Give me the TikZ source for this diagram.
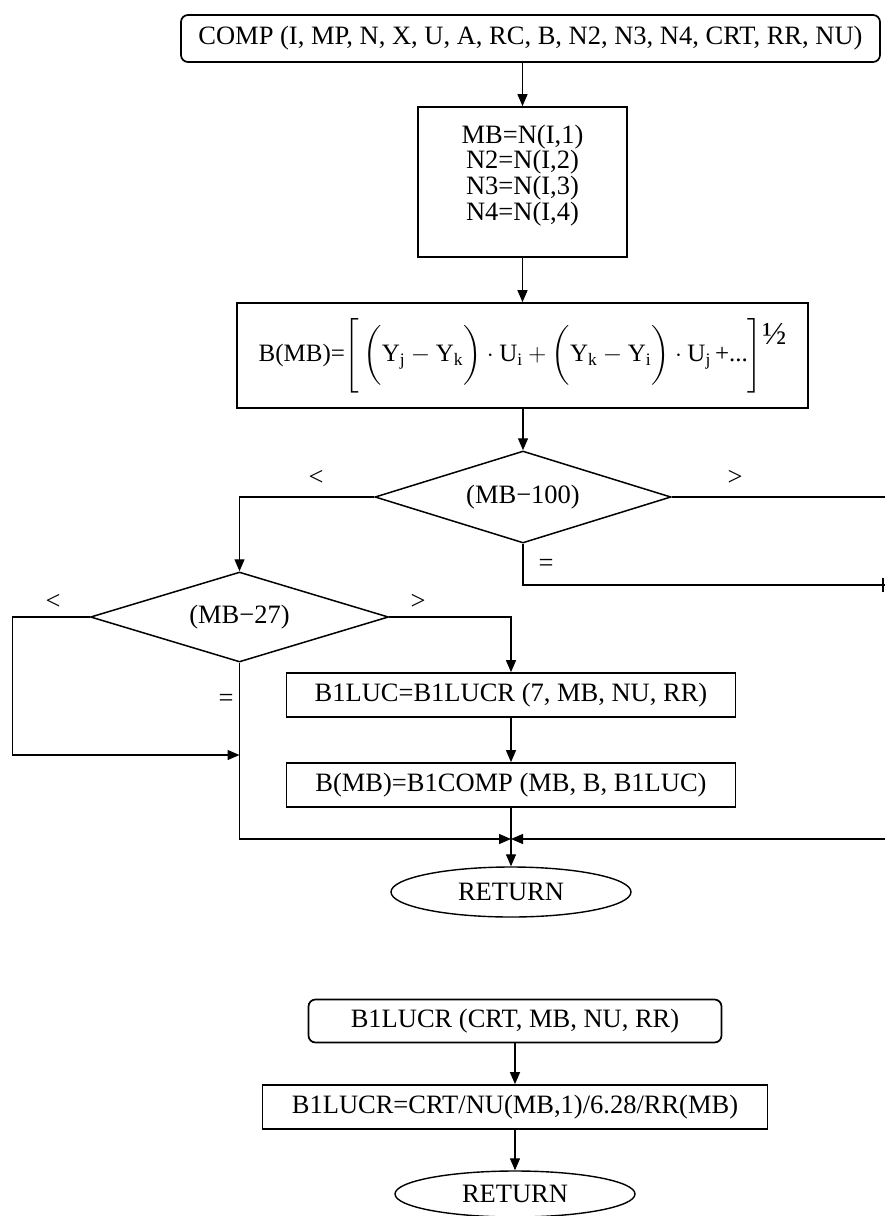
\documentclass[tikz,border=0pt]{standalone}
\usepackage{amsmath}
\usepackage{fontspec}
\setmainfont{Liberation Serif}
\usetikzlibrary{shapes.geometric,arrows.meta}

\begin{document}
\begin{tikzpicture}[x=1pt,y=-1pt,
  every node/.style={font=\fontsize{26.5}{24.5}\selectfont},
  box/.style={draw, line width=1.7pt, rectangle, inner sep=0pt},
  startbox/.style={box, rounded corners=7pt},
  decide/.style={draw, line width=1.5pt, diamond, inner sep=0pt, aspect=3.2},
  term/.style={draw, line width=1.4pt, ellipse, inner sep=0pt},
  flow/.style={line width=1.3pt},
  arr/.style={flow, -{Triangle[length=12pt,width=10pt]}},
  lbl/.style={inner sep=0pt}
]
\useasboundingbox (0,0) rectangle (884,1216);

% ---------------- main routine COMP ----------------
\node[startbox, minimum width=699pt, minimum height=47pt] (comp) at (530.5,38.5)
  {COMP (I, MP, N, X, U, A, RC, B, N2, N3, N4, CRT, RR, NU)};

\node[box, minimum width=209pt, minimum height=150pt] (mb) at (522.5,182)
  {\begin{tabular}{@{}c@{}}MB=N(I,1)\\N2=N(I,2)\\N3=N(I,3)\\N4=N(I,4)\end{tabular}\rule[-57pt]{0pt}{0pt}};

\node[box, minimum width=571pt, minimum height=105pt,
      font=\fontsize{25}{25}\selectfont] (calcB) at (522.5,355.5)
  {B(MB)=$\left[\rule[-28pt]{0pt}{68pt}
     \left(\rule[-21pt]{0pt}{54pt}\text{Y}_{\text{j}} - \text{Y}_{\text{k}}\right)\cdot \text{U}_{\text{i}}
     + \left(\rule[-21pt]{0pt}{54pt}\text{Y}_{\text{k}} - \text{Y}_{\text{i}}\right)\cdot \text{U}_{\text{j}}
     \,\text{+...}\right]$\raisebox{17pt}{\fontsize{32}{32}\selectfont ½}};

\node[decide, minimum width=296pt, minimum height=92pt] (d1) at (523,497) {(MB−100)};
\node[decide, minimum width=298pt, minimum height=90pt] (d2) at (239.5,617) {(MB−27)};

\node[box, minimum width=449pt, minimum height=44pt] (luc) at (511,695)
  {B1LUC=B1LUCR (7, MB, NU, RR)};
\node[box, minimum width=449pt, minimum height=44pt] (bcomp) at (511,785)
  {B(MB)=B1COMP (MB, B, B1LUC)};

\node[term, minimum width=240pt, minimum height=50pt] (ret) at (511,892) {RETURN};

% branch labels
\node[lbl] (lt1) at (316,478) {<};
\node[lbl] (gt1) at (735,478) {>};
\node[lbl] (eq1) at (546,565) {=};
\node[lbl] (lt2) at (53,602) {<};
\node[lbl] (gt2) at (418,602) {>};
\node[lbl] (eq2) at (226,700) {=};

% routing points
\coordinate (join) at (511,839);
\coordinate (rt1) at (887,497);
\coordinate (rt2) at (887,839);
\coordinate (rt3) at (887,585);
\coordinate (lf1) at (12.5,617);
\coordinate (lf2) at (12.5,755);

% connectors
\draw[arr] (mb.north |- comp.south) -- (mb.north);
\draw[arr] (mb.south) -- (mb.south |- calcB.north);
\draw[arr] (calcB.south -| d1.north) -- (d1.north);
\draw[arr] (d1.west) -| (d2.north);
\draw[arr] (d1.east) -- (rt1) -- (rt2) -- (join);
\draw[flow] (d1.south) |- (rt3);
\draw[flow] (883,578) -- (883,592);
\draw[arr] (d2.west) -- (lf1) -- (lf2) -- (d2.south |- lf2);
\draw[arr] (d2.south) -- (d2.south |- join) -- (join);
\draw[arr] (d2.east) -| (luc.north);
\draw[arr] (luc.south) -- (bcomp.north);
\draw[arr] (bcomp.south) -- (ret.north);

% ---------------- function B1LUCR ----------------
\node[startbox, minimum width=413pt, minimum height=43pt] (sub) at (515,1021)
  {B1LUCR (CRT, MB, NU, RR)};
\node[box, minimum width=505pt, minimum height=44pt] (rcalc) at (515,1107)
  {B1LUCR=CRT/NU(MB,1)/6.28/RR(MB)};
\node[term, minimum width=240pt, minimum height=46pt] (ret2) at (515,1194) {RETURN};

\draw[arr] (sub.south) -- (rcalc.north);
\draw[arr] (rcalc.south) -- (ret2.north);
\end{tikzpicture}
\end{document}
